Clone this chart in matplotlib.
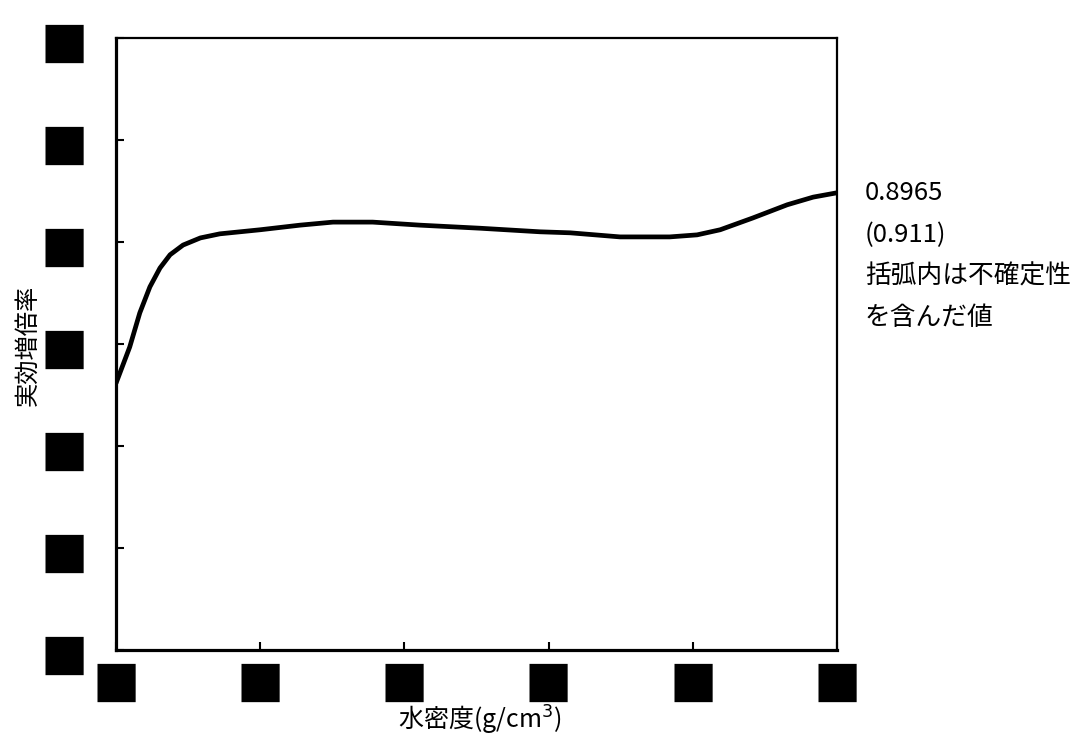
import matplotlib
matplotlib.use('Agg')
import matplotlib.pyplot as plt

plt.rcParams['font.family'] = ['Noto Sans CJK JP', 'DejaVu Sans']

# 水密度 と 実効増倍率
water_density = [0.0, 0.019, 0.033, 0.047, 0.061, 0.075, 0.093, 0.117, 0.144,
                 0.200, 0.255, 0.301, 0.356, 0.422, 0.505, 0.588, 0.630, 0.699,
                 0.768, 0.806, 0.838, 0.883, 0.931, 0.967, 1.0]
keff = [0.523, 0.594, 0.661, 0.712, 0.749, 0.775, 0.794, 0.808, 0.816,
        0.824, 0.833, 0.839, 0.839, 0.833, 0.827, 0.820, 0.818, 0.810,
        0.810, 0.814, 0.824, 0.847, 0.873, 0.888, 0.8965]

x_ticks = [0.0, 0.2, 0.4, 0.6, 0.8, 1.0]
y_ticks = [0.0, 0.2, 0.4, 0.6, 0.8, 1.0, 1.2]
# 目盛ラベルは黒塗り
tick_label = '■'

notes = ['0.8965', '(0.911)', '括弧内は不確定性', 'を含んだ値']

fig = plt.figure(figsize=(10.8, 7.38), dpi=100)
ax = fig.add_axes([116 / 1080, 1 - 650 / 738, (837 - 116) / 1080, (650 - 38) / 738])

ax.plot(water_density, keff, color='black', linewidth=3.4,
        solid_capstyle='butt', solid_joinstyle='round')

ax.set_xlim(0.0, 1.0)
ax.set_ylim(0.0, 1.2)
ax.set_xticks(x_ticks)
ax.set_yticks(y_ticks)
ax.set_xticklabels([tick_label] * len(x_ticks), fontsize=36, family='DejaVu Sans')
ax.set_yticklabels([tick_label] * len(y_ticks), fontsize=36, family='DejaVu Sans')
ax.tick_params(direction='in', length=5.5, width=1.5, pad=6)
ax.tick_params(axis='y', pad=20)

for side in ['left', 'bottom']:
    ax.spines[side].set_linewidth(2.3)
for side in ['top', 'right']:
    ax.spines[side].set_linewidth(1.6)

ax.set_xlabel('水密度(g/cm$^3$)', fontsize=18)
ax.xaxis.set_label_coords(0.505, (650 - 737) / 612)
ax.xaxis.label.set_va('bottom')
ax.set_ylabel('実効増倍率', fontsize=17.5)
ax.yaxis.set_label_coords((40 - 116) / 721, (650 - 345) / 612)

for i, s in enumerate(notes):
    fig.text(865 / 1080, 1 - (193 + 41.7 * i) / 738, s, fontsize=18.5, va='center', ha='left')

plt.savefig('out.png', dpi=100)
